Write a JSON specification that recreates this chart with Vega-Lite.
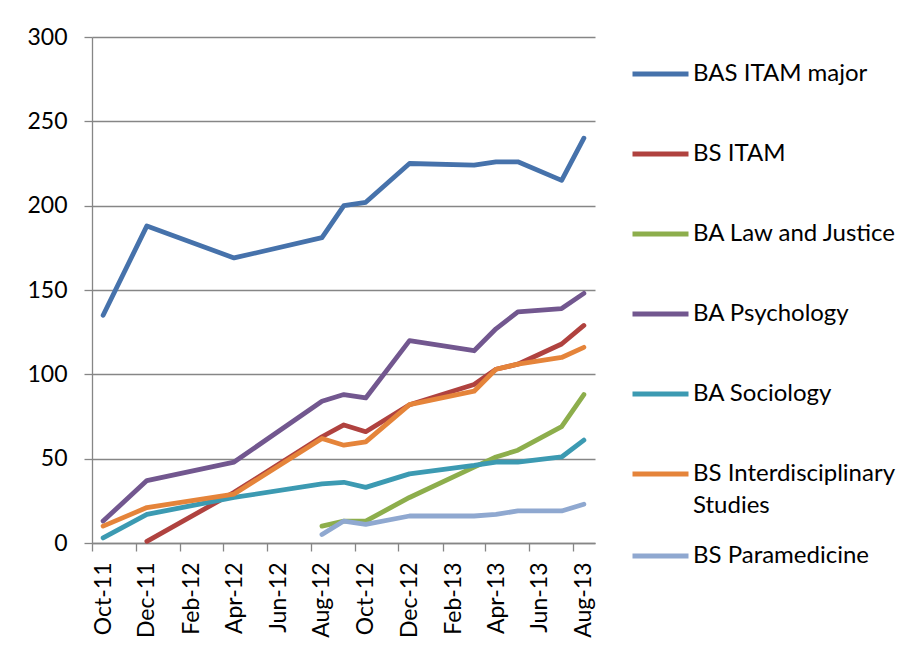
{
  "$schema": "https://vega.github.io/schema/vega-lite/v6.json",
  "autosize": "none",
  "width": 503,
  "height": 506,
  "padding": {"left": 92, "top": 37, "right": 319, "bottom": 106},
  "background": "white",
  "config": {
    "view": {"stroke": null},
    "font": "Lato",
    "axis": {
      "labelFont": "Lato",
      "labelFontSize": 23,
      "labelColor": "#000000",
      "domainColor": "#868686",
      "domainWidth": 1.3,
      "tickColor": "#868686",
      "tickWidth": 1.3,
      "tickSize": 8,
      "gridColor": "#868686",
      "gridWidth": 1.3,
      "gridOpacity": 1,
      "title": null
    },
    "legend": {
      "title": null,
      "orient": "none",
      "padding": 0,
      "symbolType": "stroke",
      "symbolSize": 3136,
      "symbolStrokeWidth": 4.8,
      "labelFont": "Lato",
      "labelFontSize": 24,
      "labelColor": "#000000",
      "labelOffset": 2,
      "labelLimit": 400,
      "clipHeight": 24,
      "rowPadding": 56
    }
  },
  "data": {
    "values": [
      {"series": "BAS ITAM major", "month": "2011-10-01", "value": 135},
      {"series": "BAS ITAM major", "month": "2011-12-01", "value": 188},
      {"series": "BAS ITAM major", "month": "2012-04-01", "value": 169},
      {"series": "BAS ITAM major", "month": "2012-08-01", "value": 181},
      {"series": "BAS ITAM major", "month": "2012-09-01", "value": 200},
      {"series": "BAS ITAM major", "month": "2012-10-01", "value": 202},
      {"series": "BAS ITAM major", "month": "2012-12-01", "value": 225},
      {"series": "BAS ITAM major", "month": "2013-03-01", "value": 224},
      {"series": "BAS ITAM major", "month": "2013-04-01", "value": 226},
      {"series": "BAS ITAM major", "month": "2013-05-01", "value": 226},
      {"series": "BAS ITAM major", "month": "2013-07-01", "value": 215},
      {"series": "BAS ITAM major", "month": "2013-08-01", "value": 240},

      {"series": "BS ITAM", "month": "2011-12-01", "value": 1},
      {"series": "BS ITAM", "month": "2012-04-01", "value": 30},
      {"series": "BS ITAM", "month": "2012-08-01", "value": 63},
      {"series": "BS ITAM", "month": "2012-09-01", "value": 70},
      {"series": "BS ITAM", "month": "2012-10-01", "value": 66},
      {"series": "BS ITAM", "month": "2012-12-01", "value": 82},
      {"series": "BS ITAM", "month": "2013-03-01", "value": 94},
      {"series": "BS ITAM", "month": "2013-04-01", "value": 103},
      {"series": "BS ITAM", "month": "2013-05-01", "value": 106},
      {"series": "BS ITAM", "month": "2013-07-01", "value": 118},
      {"series": "BS ITAM", "month": "2013-08-01", "value": 129},

      {"series": "BA Law and Justice", "month": "2012-08-01", "value": 10},
      {"series": "BA Law and Justice", "month": "2012-09-01", "value": 13},
      {"series": "BA Law and Justice", "month": "2012-10-01", "value": 13},
      {"series": "BA Law and Justice", "month": "2012-12-01", "value": 27},
      {"series": "BA Law and Justice", "month": "2013-03-01", "value": 45},
      {"series": "BA Law and Justice", "month": "2013-04-01", "value": 51},
      {"series": "BA Law and Justice", "month": "2013-05-01", "value": 55},
      {"series": "BA Law and Justice", "month": "2013-07-01", "value": 69},
      {"series": "BA Law and Justice", "month": "2013-08-01", "value": 88},

      {"series": "BA Psychology", "month": "2011-10-01", "value": 13},
      {"series": "BA Psychology", "month": "2011-12-01", "value": 37},
      {"series": "BA Psychology", "month": "2012-04-01", "value": 48},
      {"series": "BA Psychology", "month": "2012-08-01", "value": 84},
      {"series": "BA Psychology", "month": "2012-09-01", "value": 88},
      {"series": "BA Psychology", "month": "2012-10-01", "value": 86},
      {"series": "BA Psychology", "month": "2012-12-01", "value": 120},
      {"series": "BA Psychology", "month": "2013-03-01", "value": 114},
      {"series": "BA Psychology", "month": "2013-04-01", "value": 127},
      {"series": "BA Psychology", "month": "2013-05-01", "value": 137},
      {"series": "BA Psychology", "month": "2013-07-01", "value": 139},
      {"series": "BA Psychology", "month": "2013-08-01", "value": 148},

      {"series": "BA Sociology", "month": "2011-10-01", "value": 3},
      {"series": "BA Sociology", "month": "2011-12-01", "value": 17},
      {"series": "BA Sociology", "month": "2012-04-01", "value": 27},
      {"series": "BA Sociology", "month": "2012-08-01", "value": 35},
      {"series": "BA Sociology", "month": "2012-09-01", "value": 36},
      {"series": "BA Sociology", "month": "2012-10-01", "value": 33},
      {"series": "BA Sociology", "month": "2012-12-01", "value": 41},
      {"series": "BA Sociology", "month": "2013-03-01", "value": 46},
      {"series": "BA Sociology", "month": "2013-04-01", "value": 48},
      {"series": "BA Sociology", "month": "2013-05-01", "value": 48},
      {"series": "BA Sociology", "month": "2013-07-01", "value": 51},
      {"series": "BA Sociology", "month": "2013-08-01", "value": 61},

      {"series": "BS Interdisciplinary Studies", "month": "2011-10-01", "value": 10},
      {"series": "BS Interdisciplinary Studies", "month": "2011-12-01", "value": 21},
      {"series": "BS Interdisciplinary Studies", "month": "2012-04-01", "value": 29},
      {"series": "BS Interdisciplinary Studies", "month": "2012-08-01", "value": 62},
      {"series": "BS Interdisciplinary Studies", "month": "2012-09-01", "value": 58},
      {"series": "BS Interdisciplinary Studies", "month": "2012-10-01", "value": 60},
      {"series": "BS Interdisciplinary Studies", "month": "2012-12-01", "value": 82},
      {"series": "BS Interdisciplinary Studies", "month": "2013-03-01", "value": 90},
      {"series": "BS Interdisciplinary Studies", "month": "2013-04-01", "value": 103},
      {"series": "BS Interdisciplinary Studies", "month": "2013-05-01", "value": 106},
      {"series": "BS Interdisciplinary Studies", "month": "2013-07-01", "value": 110},
      {"series": "BS Interdisciplinary Studies", "month": "2013-08-01", "value": 116},

      {"series": "BS Paramedicine", "month": "2012-08-01", "value": 5},
      {"series": "BS Paramedicine", "month": "2012-09-01", "value": 13},
      {"series": "BS Paramedicine", "month": "2012-10-01", "value": 11},
      {"series": "BS Paramedicine", "month": "2012-12-01", "value": 16},
      {"series": "BS Paramedicine", "month": "2013-03-01", "value": 16},
      {"series": "BS Paramedicine", "month": "2013-04-01", "value": 17},
      {"series": "BS Paramedicine", "month": "2013-05-01", "value": 19},
      {"series": "BS Paramedicine", "month": "2013-07-01", "value": 19},
      {"series": "BS Paramedicine", "month": "2013-08-01", "value": 23}
    ]
  },
  "encoding": {
    "x": {
      "field": "month",
      "type": "temporal",
      "timeUnit": "utcyearmonth",
      "bandPosition": 0.5,
      "scale": {
        "type": "utc",
        "domain": [
          {"year": 2011, "month": 10, "date": 1, "utc": true},
          {"year": 2013, "month": 9, "date": 1, "utc": true}
        ]
      },
      "axis": {
        "values": [
          {"year": 2011, "month": 10, "date": 1, "utc": true},
          {"year": 2011, "month": 12, "date": 1, "utc": true},
          {"year": 2012, "month": 2, "date": 1, "utc": true},
          {"year": 2012, "month": 4, "date": 1, "utc": true},
          {"year": 2012, "month": 6, "date": 1, "utc": true},
          {"year": 2012, "month": 8, "date": 1, "utc": true},
          {"year": 2012, "month": 10, "date": 1, "utc": true},
          {"year": 2012, "month": 12, "date": 1, "utc": true},
          {"year": 2013, "month": 2, "date": 1, "utc": true},
          {"year": 2013, "month": 4, "date": 1, "utc": true},
          {"year": 2013, "month": 6, "date": 1, "utc": true},
          {"year": 2013, "month": 8, "date": 1, "utc": true}
        ],
        "labelExpr": "utcFormat(datum.value, '%b-%y')",
        "labelAngle": -90,
        "labelAlign": "right",
        "labelBaseline": "middle",
        "labelOffset": 11,
        "labelPadding": 11,
        "labelOverlap": false,
        "grid": false
      }
    },
    "y": {
      "field": "value",
      "type": "quantitative",
      "scale": {"domain": [0, 300], "nice": false},
      "axis": {
        "values": [0, 50, 100, 150, 200, 250, 300],
        "grid": true,
        "labelPadding": 17
      }
    }
  },
  "layer": [
    {
      "transform": [{"filter": "datum.series != 'BS Paramedicine'"}],
      "mark": {"type": "line", "strokeWidth": 4.8, "strokeCap": "round", "strokeJoin": "round"},
      "encoding": {
        "color": {
          "field": "series",
          "type": "nominal",
          "sort": ["BAS ITAM major", "BS ITAM", "BA Law and Justice", "BA Psychology", "BA Sociology", "BS Interdisciplinary Studies"],
          "scale": {
            "domain": ["BAS ITAM major", "BS ITAM", "BA Law and Justice", "BA Psychology", "BA Sociology", "BS Interdisciplinary Studies"],
            "range": ["#4672AB", "#B0423F", "#8DAE4C", "#72578F", "#3C9AB2", "#E5843A"]
          },
          "legend": {
            "legendX": 538,
            "legendY": 25,
            "labelExpr": "datum.label == 'BS Interdisciplinary Studies' ? ['BS Interdisciplinary', 'Studies'] : datum.label",
            "encode": {"labels": {"update": {"lineHeight": {"value": 32}}}}
          }
        }
      }
    },
    {
      "transform": [{"filter": "datum.series == 'BS Paramedicine'"}],
      "mark": {"type": "line", "strokeWidth": 4.8, "strokeCap": "round", "strokeJoin": "round"},
      "encoding": {
        "color": {
          "field": "series",
          "type": "nominal",
          "scale": {
            "domain": ["BS Paramedicine"],
            "range": ["#8FA8D0"]
          },
          "legend": {
            "legendX": 538,
            "legendY": 507
          }
        }
      }
    }
  ],
  "resolve": {"scale": {"color": "independent"}, "legend": {"color": "independent"}}
}
